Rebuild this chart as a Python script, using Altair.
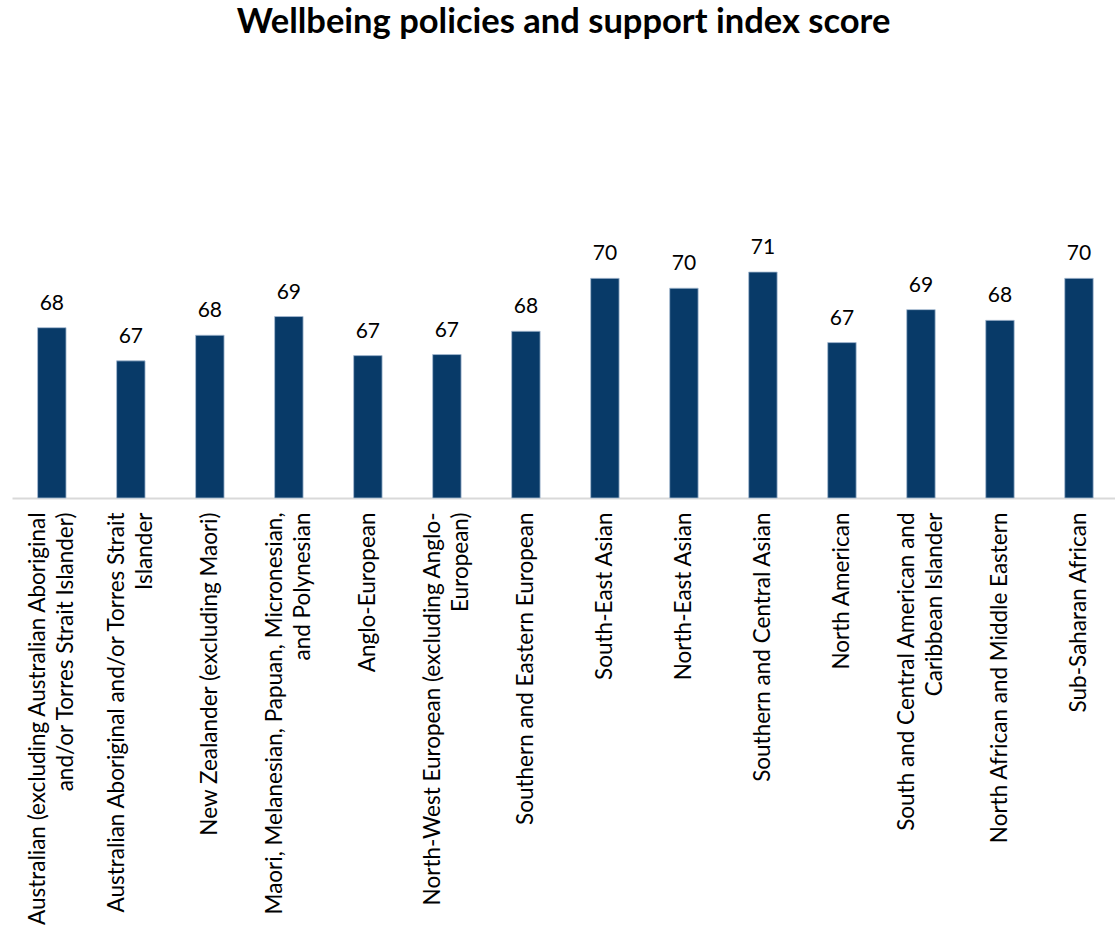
import altair as alt
import pandas as pd

categories = [
    "Australian (excluding Australian Aboriginal and/or Torres Strait Islander)",
    "Australian Aboriginal and/or Torres Strait Islander",
    "New Zealander (excluding Maori)",
    "Maori, Melanesian, Papuan, Micronesian, and Polynesian",
    "Anglo-European",
    "North-West European (excluding Anglo-European)",
    "Southern and Eastern European",
    "South-East Asian",
    "North-East Asian",
    "Southern and Central Asian",
    "North American",
    "South and Central American and Caribbean Islander",
    "North African and Middle Eastern",
    "Sub-Saharan African",
]

# axis label text as wrapped in the reference ("|" marks a line break)
wrapped_labels = [
    "Australian (excluding Australian Aboriginal|and/or Torres Strait Islander)",
    "Australian Aboriginal and/or Torres Strait|Islander",
    "New Zealander (excluding Maori)",
    "Maori, Melanesian, Papuan, Micronesian,|and Polynesian",
    "Anglo-European",
    "North-West European (excluding Anglo-|European)",
    "Southern and Eastern European",
    "South-East Asian",
    "North-East Asian",
    "Southern and Central Asian",
    "North American",
    "South and Central American and|Caribbean Islander",
    "North African and Middle Eastern",
    "Sub-Saharan African",
]

scores = [68.11, 66.53, 67.75, 68.64, 66.78, 66.83, 67.94,
          70.46, 69.99, 70.76, 67.40, 68.97, 68.46, 70.46]

y_domain = [60, 80]

df = pd.DataFrame({
    "category": categories,
    "label": wrapped_labels,
    "score": scores,
    "base": [y_domain[0]] * len(scores),
})

FONT = "Lato"
BAR = "#083A68"
LINE_H = 28

x_enc = alt.X(
    "label:N",
    sort=None,
    title=None,
    scale=alt.Scale(paddingInner=0.64, paddingOuter=0.3, align=0.54),
    axis=alt.Axis(
        labelAngle=-90,
        labelAlign="right",
        labelExpr="split(datum.label, '|')",
        labelFont=FONT,
        labelFontSize=22.5,
        labelColor="#000000",
        labelLineHeight=LINE_H,
        labelPadding=14,
        labelLimit=0,
        labelOffset={
            "condition": {"test": "indexof(datum.value, '|') >= 0", "value": -LINE_H / 2},
            "value": 0,
        },
        ticks=False,
        domainColor="#d9d9d9",
        domainWidth=2,
        grid=False,
    ),
)

y_enc = alt.Y(
    "score:Q",
    scale=alt.Scale(domain=y_domain, zero=False, nice=False),
    axis=None,
)

bars = alt.Chart(df).mark_bar(color=BAR, stroke="#a8bdd3", strokeWidth=0.8).encode(
    x=x_enc, y=y_enc, y2="base:Q"
)

text = alt.Chart(df).mark_text(
    font=FONT, fontSize=21, color="#000000", baseline="alphabetic", dy=-18
).encode(x=x_enc, y=y_enc, text=alt.Text("score:Q", format=".0f"))

chart = (
    alt.layer(bars, text)
    .properties(
        width=1103,
        height=420,
        padding={"left": 12, "top": 5, "right": 0, "bottom": 0},
        title=alt.TitleParams(
            "Wellbeing policies and support index score",
            font=FONT,
            fontSize=34.5,
            fontWeight="bold",
            color="#000000",
            anchor="middle",
            offset=37.5,
        ),
    )
    .configure_view(stroke=None)
)

chart.save("out.html", embed_options={"renderer": "svg", "actions": False})
